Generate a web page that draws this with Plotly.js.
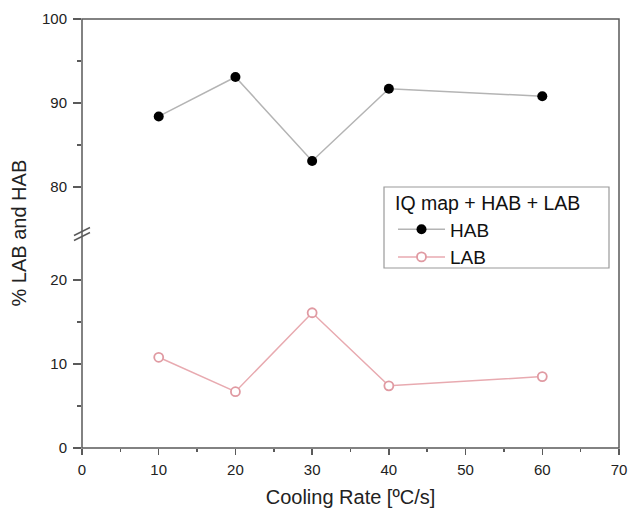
<!DOCTYPE html>
<html>
<head>
<meta charset="utf-8">
<script src="https://cdn.plot.ly/plotly-3.0.1.min.js"></script>
<style>html,body{margin:0;padding:0;background:#fff;}#chart{width:630px;height:514px;}</style>
</head>
<body>
<div id="chart"></div>
<script>
var coolingRate = [10, 20, 30, 40, 60];
var habValues = [88.4, 93.1, 83.1, 91.7, 90.8];
var labValues = [10.8, 6.7, 16.1, 7.4, 8.5];
var xTicks = [0, 10, 20, 30, 40, 50, 60, 70];
var lowerTicks = [0, 10, 20];
var upperTicks = [80, 90, 100];
var legendTitle = 'IQ map + HAB + LAB';
var xTitle = 'Cooling Rate [ºC/s]';
var yTitle = '% LAB and HAB';

var axisColor = '#5a5a5a';
var font = 'Liberation Sans, Arial, sans-serif';

var traces = [
  {
    x: coolingRate, y: habValues, name: 'HAB', yaxis: 'y2',
    mode: 'lines+markers',
    line: {color: '#b4b4b4', width: 1.5},
    marker: {color: '#000', size: 10, line: {color: '#000', width: 0}}
  },
  {
    x: coolingRate, y: labValues, name: 'LAB', yaxis: 'y',
    mode: 'lines+markers',
    line: {color: '#e8aab0', width: 1.5},
    marker: {color: '#fff', size: 9, symbol: 'circle', line: {color: '#e09aa2', width: 1.8}}
  }
];

var lowerTop = 210 / 429;
var upperBot = 219 / 429;
var gapMid = (lowerTop + upperBot) / 2;

var commonAxis = {
  showgrid: false, zeroline: false, showline: false,
  ticks: 'outside', ticklen: 8, tickwidth: 1.5, tickcolor: axisColor,
  tickfont: {family: font, size: 15, color: '#222'},
  minor: {ticks: 'outside', ticklen: 4, tickwidth: 1.5, tickcolor: axisColor, dtick: 5}
};

var layout = {
  width: 630, height: 514,
  margin: {l: 82, r: 11, t: 19, b: 66},
  paper_bgcolor: '#fff', plot_bgcolor: '#fff',
  showlegend: true,
  font: {family: font, color: '#222'},
  xaxis: Object.assign({}, commonAxis, {
    range: [0, 70], tickvals: xTicks, ticklen: 6, ticklabelstandoff: 2,
    minor: {ticks: 'outside', ticklen: 3, tickwidth: 1.5, tickcolor: axisColor, dtick: 5},
    title: {text: xTitle, font: {family: font, size: 20, color: '#222'}, standoff: 12}
  }),
  yaxis: Object.assign({}, commonAxis, {
    domain: [0, lowerTop], range: [0, 25], tickvals: lowerTicks, ticklabelstandoff: 3,
    minor: {ticks: 'outside', ticklen: 4, tickwidth: 1.5, tickcolor: axisColor, tickvals: [5, 15]}
  }),
  yaxis2: Object.assign({}, commonAxis, {
    domain: [upperBot, 1], range: [75, 100], tickvals: upperTicks, ticklabelstandoff: 3,
    minor: {ticks: 'outside', ticklen: 4, tickwidth: 1.5, tickcolor: axisColor, tickvals: [85, 95]}
  }),
  legend: {
    x: (393 - 82) / 537, y: (448 - 185) / 429, xanchor: 'left', yanchor: 'top',
    bgcolor: 'rgba(0,0,0,0)', borderwidth: 0,
    font: {family: font, size: 19, color: '#111'},
    title: {text: legendTitle, font: {family: font, size: 19.5, color: '#111'}},
    itemwidth: 47, tracegroupgap: 0
  },
  annotations: [
    {
      text: yTitle, xref: 'paper', yref: 'paper', x: 0, y: 0.5,
      xanchor: 'center', yanchor: 'middle', xshift: -64, textangle: -90,
      showarrow: false, font: {family: font, size: 20, color: '#222'}
    }
  ],
  shapes: [
    {type: 'rect', xref: 'paper', yref: 'paper', x0: 0, x1: 1, y0: 0, y1: 1,
     line: {color: axisColor, width: 1.5}, layer: 'below'},
    {type: 'rect', xref: 'paper', yref: 'paper',
     x0: (384 - 82) / 537, x1: (609 - 82) / 537, y0: (448 - 268) / 429, y1: (448 - 187) / 429,
     fillcolor: '#fff', line: {color: '#9a9a9a', width: 1.2}, layer: 'below'},
    {type: 'line', xref: 'paper', yref: 'paper', xsizemode: 'pixel', ysizemode: 'pixel',
     xanchor: 0, yanchor: gapMid, x0: -8, x1: 8, y0: -2, y1: 6,
     line: {color: axisColor, width: 1.5}},
    {type: 'line', xref: 'paper', yref: 'paper', xsizemode: 'pixel', ysizemode: 'pixel',
     xanchor: 0, yanchor: gapMid, x0: -8, x1: 8, y0: -7, y1: 1,
     line: {color: axisColor, width: 1.5}}
  ]
};

Plotly.newPlot('chart', traces, layout, {displayModeBar: false, staticPlot: true});
</script>
</body>
</html>
